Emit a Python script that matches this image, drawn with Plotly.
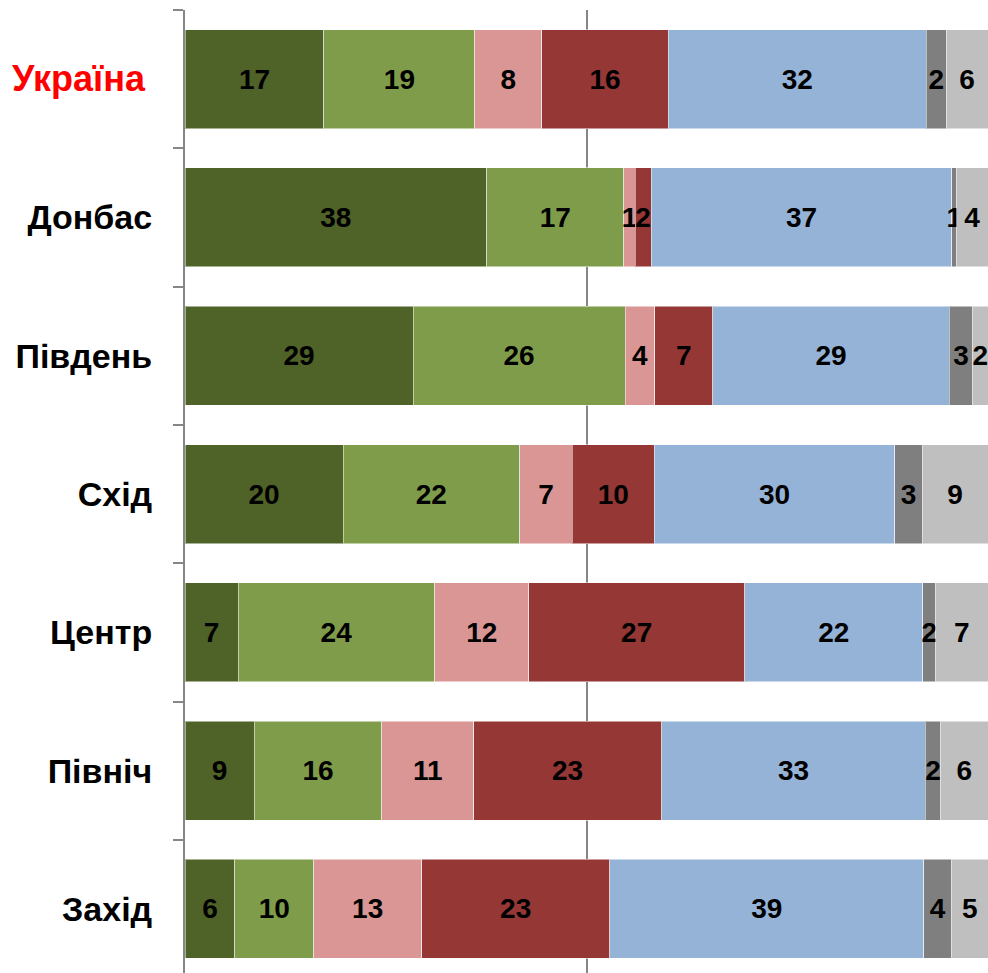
import plotly.graph_objects as go

categories = ["Україна", "Донбас", "Південь", "Схід", "Центр", "Північ", "Захід"]

# data labels as printed on the chart (rounded %)
lab1 = [17, 38, 29, 20, 7, 9, 6]
lab2 = [19, 17, 26, 22, 24, 16, 10]
lab3 = [8, 1, 4, 7, 12, 11, 13]
lab4 = [16, 2, 7, 10, 27, 23, 23]
lab5 = [32, 37, 29, 30, 22, 33, 39]
lab6 = [2, 1, 3, 3, 2, 2, 4]
lab7 = [6, 4, 2, 9, 7, 6, 5]

# segment shares (%)
val1 = [17.3, 37.6, 28.4, 19.7, 6.6, 8.6, 6.2]
val2 = [18.8, 17.1, 26.4, 22.0, 24.5, 15.9, 9.8]
val3 = [8.3, 1.4, 3.7, 6.6, 11.7, 11.4, 13.4]
val4 = [15.8, 2.0, 7.2, 10.2, 26.9, 23.4, 23.4]
val5 = [32.1, 37.5, 29.5, 30.0, 22.2, 32.8, 39.0]
val6 = [2.5, 0.6, 2.9, 3.4, 1.6, 1.9, 3.5]
val7 = [5.2, 3.9, 1.9, 8.2, 6.5, 5.9, 4.5]

values = [val1, val2, val3, val4, val5, val6, val7]
labels = [lab1, lab2, lab3, lab4, lab5, lab6, lab7]
colors = ["#4F6228", "#7F9C4A", "#D99694", "#953735", "#95B3D7", "#7F7F7F", "#BFBFBF"]

tick_text = ["<span style='color:#FF0000;font-size:36px'>Україна\u2009</span>"] + categories[1:]

fig = go.Figure()
for vals, labs, col in zip(values, labels, colors):
    fig.add_trace(go.Bar(
        y=categories, x=vals, orientation="h",
        marker=dict(color=col, line=dict(color="rgba(255,255,255,0.5)", width=1)),
        text=[str(v) for v in labs], textposition="inside",
        insidetextanchor="middle", constraintext="none",
        textfont=dict(family="Liberation Sans, Arial", size=28, color="black", weight="bold"),
        showlegend=False, hoverinfo="skip",
    ))

fig.update_layout(
    barmode="stack", barnorm="percent", bargap=0.284,
    width=988, height=973,
    margin=dict(l=185, r=0, t=10, b=0),
    plot_bgcolor="white", paper_bgcolor="white",
    font=dict(family="Liberation Sans, Arial", color="black"),
)
fig.update_xaxes(range=[0, 100], tickvals=[50], showticklabels=False,
                 showgrid=True, gridcolor="#868686", gridwidth=2,
                 zeroline=False, showline=False, ticks="")
fig.update_yaxes(categoryorder="array", categoryarray=categories,
                 tickvals=categories, ticktext=tick_text,
                 range=[6.463, -0.5], showline=True, linecolor="#868686", linewidth=2,
                 ticks="outside", tickson="boundaries", ticklen=10, tickcolor="#868686", tickwidth=2,
                 tickfont=dict(family="Liberation Sans, Arial", size=34, color="black", weight="bold"),
                 ticklabelstandoff=24, showgrid=False, zeroline=False)

fig.write_html("out.html", config={"displayModeBar": False},
               post_script="document.body.style.margin='0px';document.body.style.overflow='hidden';")
